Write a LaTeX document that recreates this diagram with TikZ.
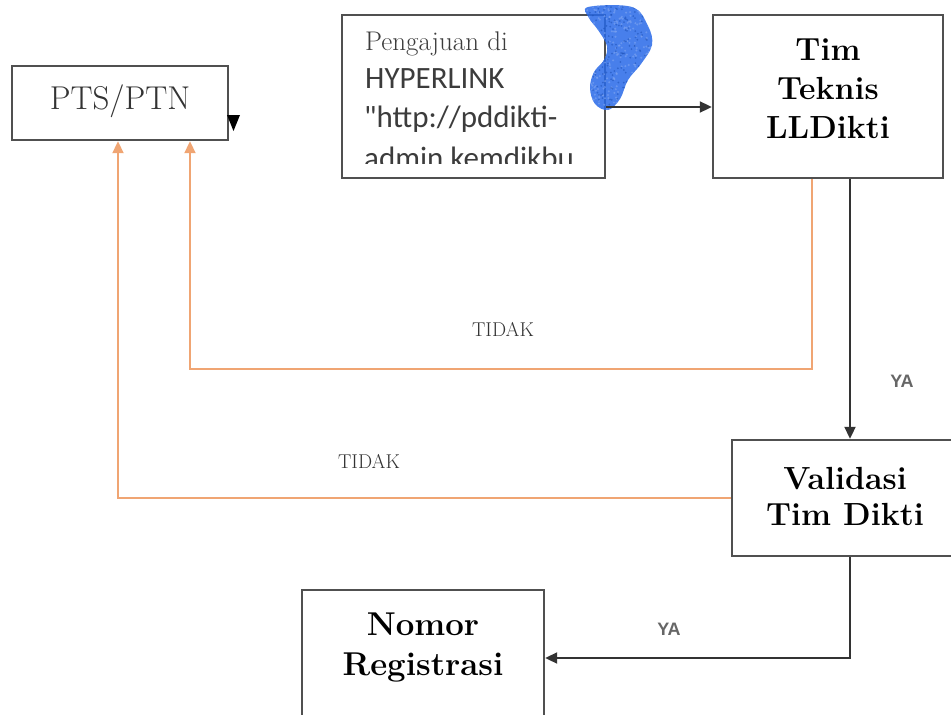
\documentclass[tikz,border=0pt]{standalone}
\usepackage{fontspec}
\newfontfamily\calib{Carlito}
\newfontfamily\arialf{Liberation Sans}
\usetikzlibrary{arrows.meta}
\definecolor{boxline}{RGB}{80,80,80}
\definecolor{orangeline}{RGB}{240,165,115}
\definecolor{txtgray}{RGB}{60,60,60}
\definecolor{scrib}{RGB}{40,105,232}
\definecolor{scribl}{RGB}{120,160,240}
\tikzset{
  box/.style={draw=boxline, line width=2.4pt, rectangle, inner sep=0pt},
  boldtxt/.style={align=center, font=\fontsize{32}{39}\selectfont\bfseries},
  arr/.style={draw=black!80, line width=2pt, -{Triangle[length=12pt,width=11pt]}},
  oarr/.style={draw=orangeline, line width=2pt, -{Triangle[length=12pt,width=11pt,fill=orangeline]}},
  lbl/.style={font=\fontsize{20}{22}\selectfont, text=black!80},
  lbls/.style={font=\arialf\bfseries\fontsize{18}{20}\selectfont, text=black!60}
}
\begin{document}
\begin{tikzpicture}[x=1pt,y=-1pt]
\useasboundingbox (0,0) rectangle (951,715);
% boxes
\node[box, minimum width=216pt, minimum height=74pt] (pts) at (120,103) {};
\node[font=\fontsize{33}{36}\selectfont, text=black!80] (ptstxt) at (120,101) {PTS/PTN};
\node[box, minimum width=263pt, minimum height=163pt] (peng) at (473.5,96.5) {};
\node[box, minimum width=230pt, minimum height=163pt] (tim) at (828,96.5) {};
\node[boldtxt] (timtxt) at (828,89) {Tim\\Teknis\\LLDikti};
\node[box, minimum width=226pt, minimum height=116pt] (val) at (845,498) {};
\node[boldtxt, font=\fontsize{32}{36}\selectfont\bfseries] (valtxt) at (845,496) {Validasi\\Tim Dikti};
\node[box, minimum width=242pt, minimum height=130pt] (nom) at (423,655) {};
\node[boldtxt, font=\fontsize{33}{40}\selectfont\bfseries] (nomtxt) at (423,647) {Nomor\\Registrasi};
% pengajuan text clipped
\begin{scope}
\clip (344,17) rectangle (603,163);
\node[anchor=base west, inner sep=0pt, text=txtgray, font=\fontsize{27}{30}\selectfont] (p1) at (365,50) {Pengajuan di};
\node[anchor=base west, inner sep=0pt, text=txtgray, font=\calib\fontsize{31}{34}\selectfont] (p2) at (365,88) {HYPERLINK};
\node[anchor=base west, inner sep=0pt, text=txtgray, font=\calib\fontsize{31}{34}\selectfont] (p3) at (364,127) {"http://pddikti-};
\node[anchor=base west, inner sep=0pt, text=txtgray, font=\calib\fontsize{31}{34}\selectfont] (p4) at (364,168) {admin kemdikbu};
\end{scope}
% blue scribble
\begin{scope}
\clip plot[smooth cycle, tension=0.6] coordinates {(588,7) (632,7) (648,26) (652,45) (641,64) (628,80) (620,99) (608,110) (595,104) (590,88) (594,72) (604,60) (607,46) (598,30) (589,18)};
\fill[scrib, opacity=0.85] (580,0) rectangle (660,115);
\pgfmathsetseed{7}
\foreach \i in {1,...,260} {
  \pgfmathsetmacro\rx{586+rnd*68}
  \pgfmathsetmacro\ry{5+rnd*108}
  \fill[scribl, opacity=0.7] (\rx,\ry) circle (1.1pt);
}
\foreach \i in {1,...,200} {
  \pgfmathsetmacro\rx{586+rnd*68}
  \pgfmathsetmacro\ry{5+rnd*108}
  \fill[scrib!80!black, opacity=0.6] (\rx,\ry) circle (1pt);
}
\end{scope}
% stray triangle
\fill[black] (227,115) -- (240,115) -- (233.5,131) -- cycle;
% connectors
\draw[arr] ([yshift=-10.5pt]peng.east) -- ([yshift=-10.5pt]tim.west);
\draw[oarr] ([xshift=-16pt]tim.south) -- ++(0,190) -| ([xshift=70pt]pts.south);
\draw[oarr] (val.west) -| ([xshift=-2pt]pts.south);
\draw[arr] ([xshift=22pt]tim.south) -- ([xshift=22pt]tim.south |- val.north);
\draw[arr] ([xshift=5pt]val.south) |- ([yshift=-3pt]nom.east);
% labels
\node[lbl] (t1) at (503,329) {TIDAK};
\node[lbl] (t2) at (369,461) {TIDAK};
\node[lbls] (y1) at (902,381) {YA};
\node[lbls] (y2) at (669,629) {YA};
\end{tikzpicture}
\end{document}
